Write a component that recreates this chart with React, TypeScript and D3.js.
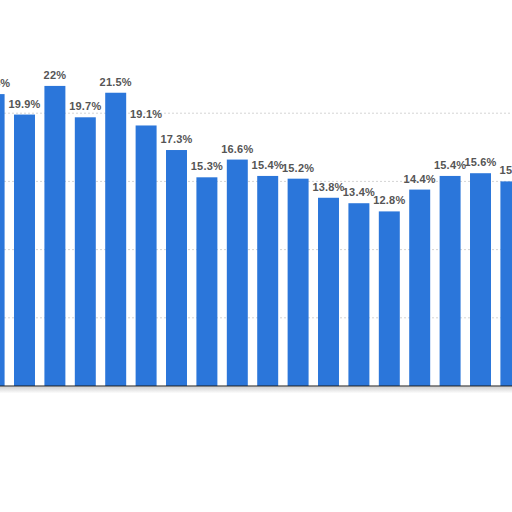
import React from "react";
import * as d3 from "d3";

const categories = ["c1","c2","c3","c4","c5","c6","c7","c8","c9","c10","c11","c12","c13","c14","c15","c16","c17","c18"];
const values = [21.4, 19.9, 22, 19.7, 21.5, 19.1, 17.3, 15.3, 16.6, 15.4, 15.2, 13.8, 13.4, 12.8, 14.4, 15.4, 15.6, 15];
const labels = ["21.4%","19.9%","22%","19.7%","21.5%","19.1%","17.3%","15.3%","16.6%","15.4%","15.2%","13.8%","13.4%","12.8%","14.4%","15.4%","15.6%","15%"];
const gridTicks = [5, 10, 15, 20];

export default function App() {
  const W = 512, H = 512;
  const step = 30.4;
  const start = -21.1;
  const x = d3.scaleBand<string>()
    .domain(categories)
    .range([start, start + categories.length * step])
    .paddingInner(0.31)
    .paddingOuter(0.155);
  const y = d3.scaleLinear().domain([0, 25]).range([386, 45]);
  const base = y(0);
  return (
    <svg width={W} height={H} style={{ position: "absolute", left: 0, top: 0, background: "#fff" }}>
      <defs>
        <linearGradient id="sh" x1="0" y1="0" x2="0" y2="1">
          <stop offset="0" stopColor="#d0d0d0" />
          <stop offset="1" stopColor="#ffffff" />
        </linearGradient>
      </defs>
      <rect x={0} y={0} width={W} height={H} fill="#fff" />
      {gridTicks.map(t => (
        <line key={t} x1={0} x2={W} y1={y(t)} y2={y(t)} stroke="#d4d4d4" strokeWidth={1} strokeDasharray="2,2" />
      ))}
      {categories.map((c, i) => (
        <rect key={c} x={x(c)} y={y(values[i])} width={x.bandwidth()} height={base - y(values[i])} fill="#2b76da" />
      ))}
      {categories.map((c, i) => (
        <text key={"l" + c} x={(x(c) as number) + x.bandwidth() / 2} y={y(values[i]) - 7}
          textAnchor="middle" fontFamily="'Liberation Sans', Arial, sans-serif" fontSize={11}
          fontWeight="bold" fill="#555" letterSpacing={0.2}>
          {labels[i]}
        </text>
      ))}
      <rect x={0} y={base + 0.5} width={W} height={7} fill="url(#sh)" />
      <line x1={0} x2={W} y1={base} y2={base} stroke="#1a1a1a" strokeWidth={1.2} />
    </svg>
  );
}
